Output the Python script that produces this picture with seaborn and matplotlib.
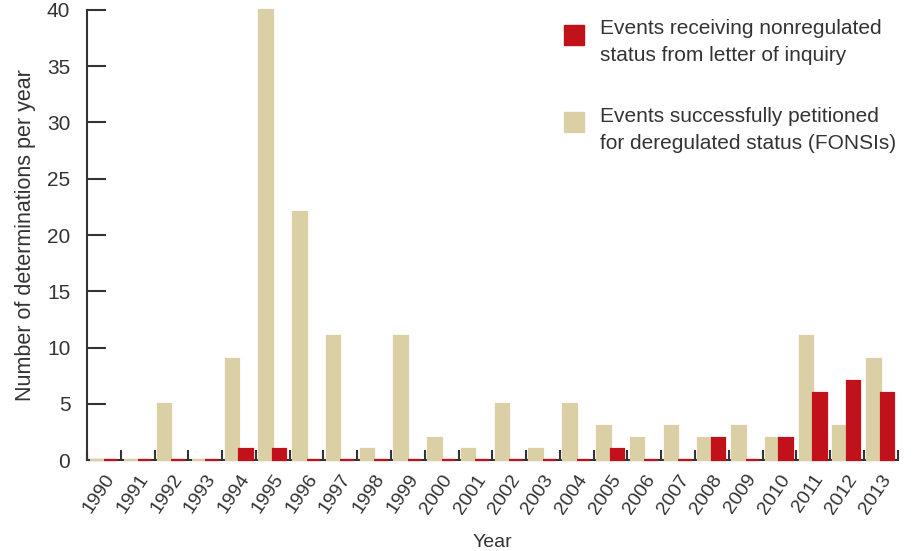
import pandas as pd
import matplotlib.pyplot as plt
import seaborn as sns
from matplotlib.patches import Rectangle

# Data
years = [str(y) for y in range(1990, 2014)]
fonsi = [0, 0, 5, 0, 9, 40, 22, 11, 1, 11, 2, 1, 5, 1, 5, 3, 2, 3, 2, 3, 2, 11, 3, 9]
letter = [0, 0, 0, 0, 1, 1, 0, 0, 0, 0, 0, 0, 0, 0, 0, 1, 0, 0, 2, 0, 2, 6, 7, 6]

fonsi_label = "Events successfully petitioned\nfor deregulated status (FONSIs)"
letter_label = "Events receiving nonregulated\nstatus from letter of inquiry"

tan = "#DBCFA6"
red = "#C1121C"
ink = "#333333"

df = pd.DataFrame({
    "Year": years * 2,
    "count": fonsi + letter,
    "series": ["fonsi"] * len(years) + ["letter"] * len(years),
})

sns.set_style("ticks")
plt.rcParams["font.family"] = ["Liberation Sans", "DejaVu Sans"]

fig = plt.figure(figsize=(9.18, 5.51), dpi=100)
ax = fig.add_axes([0.0948, 0.165, 0.883, 0.817])

sns.barplot(data=df, x="Year", y="count", hue="series", hue_order=["fonsi", "letter"],
            palette=[tan, red], saturation=1, width=0.8, gap=0, linewidth=1.6,
            legend=False, ax=ax, zorder=3)
for p in ax.patches:
    p.set_edgecolor(p.get_facecolor())
    p.set_clip_on(False)

ax.set_xlim(-0.5, len(years) - 0.5)
ax.set_ylim(0, 40)
ax.set_yticks(range(0, 41, 5))

# year boundaries as small inward ticks, labels at centres
ax.set_xticks([i - 0.5 for i in range(len(years) + 1)], minor=True)
ax.tick_params(axis="x", which="minor", bottom=True, direction="in", length=7,
               width=1.5, color=ink)
ax.tick_params(axis="x", which="major", bottom=True, length=0, pad=8)
ax.set_xticks(range(len(years)))
ax.set_xticklabels(years, rotation=56, ha="right", rotation_mode="anchor",
                   fontsize=14, color=ink)
ax.tick_params(axis="y", left=True, direction="in", length=14, width=1.5, color=ink,
               labelsize=15, labelcolor=ink, pad=12)

for s in ["top", "right"]:
    ax.spines[s].set_visible(False)
for s in ["left", "bottom"]:
    ax.spines[s].set_color(ink)
    ax.spines[s].set_linewidth(1.5)

ax.set_xlabel("Year", fontsize=14, color=ink, labelpad=12)
ax.set_ylabel("Number of determinations per year", fontsize=15.5, color=ink, labelpad=8)

# legend drawn by hand to keep the square next to the first line
ax.add_patch(Rectangle((0.589, 0.922), 0.0247, 0.044, transform=ax.transAxes,
                       color=red, clip_on=False))
ax.add_patch(Rectangle((0.589, 0.729), 0.0247, 0.044, transform=ax.transAxes,
                       color=tan, clip_on=False))
ax.text(0.633, 0.98, letter_label, transform=ax.transAxes, va="top", ha="left",
        fontsize=15, color=ink, linespacing=1.55)
ax.text(0.633, 0.785, fonsi_label, transform=ax.transAxes, va="top", ha="left",
        fontsize=15, color=ink, linespacing=1.55)

plt.savefig("out.png", dpi=100)
